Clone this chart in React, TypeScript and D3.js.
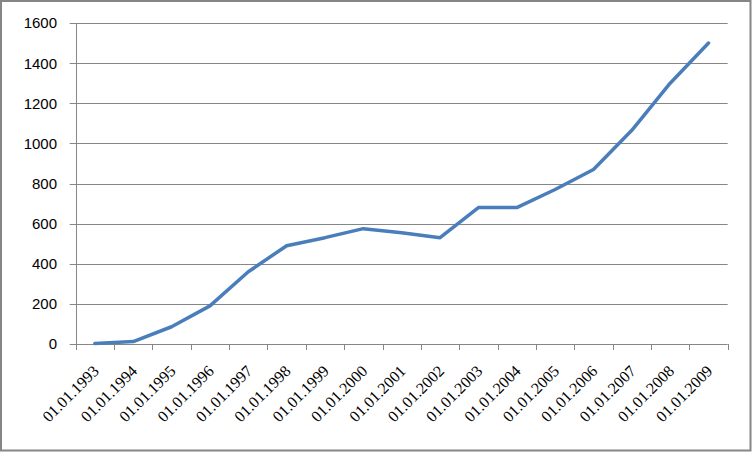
import React from "react";
import * as d3 from "d3";

const categories = [
  "01.01.1993", "01.01.1994", "01.01.1995", "01.01.1996", "01.01.1997", "01.01.1998",
  "01.01.1999", "01.01.2000", "01.01.2001", "01.01.2002", "01.01.2003", "01.01.2004",
  "01.01.2005", "01.01.2006", "01.01.2007", "01.01.2008", "01.01.2009",
];
const values = [3, 12, 86, 190, 360, 490, 530, 575, 555, 530, 680, 680, 770, 870, 1065, 1300, 1500];
const yTicks = [0, 200, 400, 600, 800, 1000, 1200, 1400, 1600];

const W = 752, H = 452;
const left = 75.7, right = 727.7, top = 23, bottom = 344;

export default function App() {
  const x = d3.scaleBand<string>().domain(categories).range([left, right]).padding(0);
  const y = d3.scaleLinear().domain([0, 1600]).range([bottom, top]);
  const line = d3.line<number>()
    .x((_, i) => (x(categories[i]) as number) + x.bandwidth() / 2)
    .y((d) => y(d));
  const tickXs = categories.map((c) => x(c) as number).concat([right]);
  return (
    <svg width={W} height={H} viewBox={`0 0 ${W} ${H}`} style={{ position: "absolute", left: 0, top: 0, background: "#fff" }}>
      <rect x={1} y={1} width={W - 2.5} height={H - 2.5} fill="#fff" stroke="#868686" strokeWidth={2} />
      {yTicks.map((t) => (
        <g key={t}>
          <line x1={left - 6} x2={right} y1={Math.round(y(t)) + 0.5} y2={Math.round(y(t)) + 0.5} stroke="#868686" strokeWidth={1} />
          <text x={57} y={y(t)} dy="0.36em" textAnchor="end" fontFamily="Liberation Sans" fontSize="15" fill="#000">
            {t}
          </text>
        </g>
      ))}
      <line x1={Math.round(left) + 0.5} x2={Math.round(left) + 0.5} y1={top} y2={bottom} stroke="#868686" />
      {tickXs.map((tx, i) => (
        <line key={i} x1={Math.round(tx) + 0.5} x2={Math.round(tx) + 0.5} y1={bottom} y2={bottom + 6} stroke="#868686" />
      ))}
      {categories.map((c) => {
        const cx = (x(c) as number) + x.bandwidth() / 2 + 5;
        const cy = 372;
        return (
          <text key={c} x={cx} y={cy} textAnchor="end" transform={`rotate(-45 ${cx} ${cy})`}
            fontFamily="Liberation Serif" fontSize="16" fill="#000">
            {c}
          </text>
        );
      })}
      <path d={line(values) || ""} fill="none" stroke="#4a7ebb" strokeWidth={3.5} strokeLinejoin="round" strokeLinecap="round" />
    </svg>
  );
}
